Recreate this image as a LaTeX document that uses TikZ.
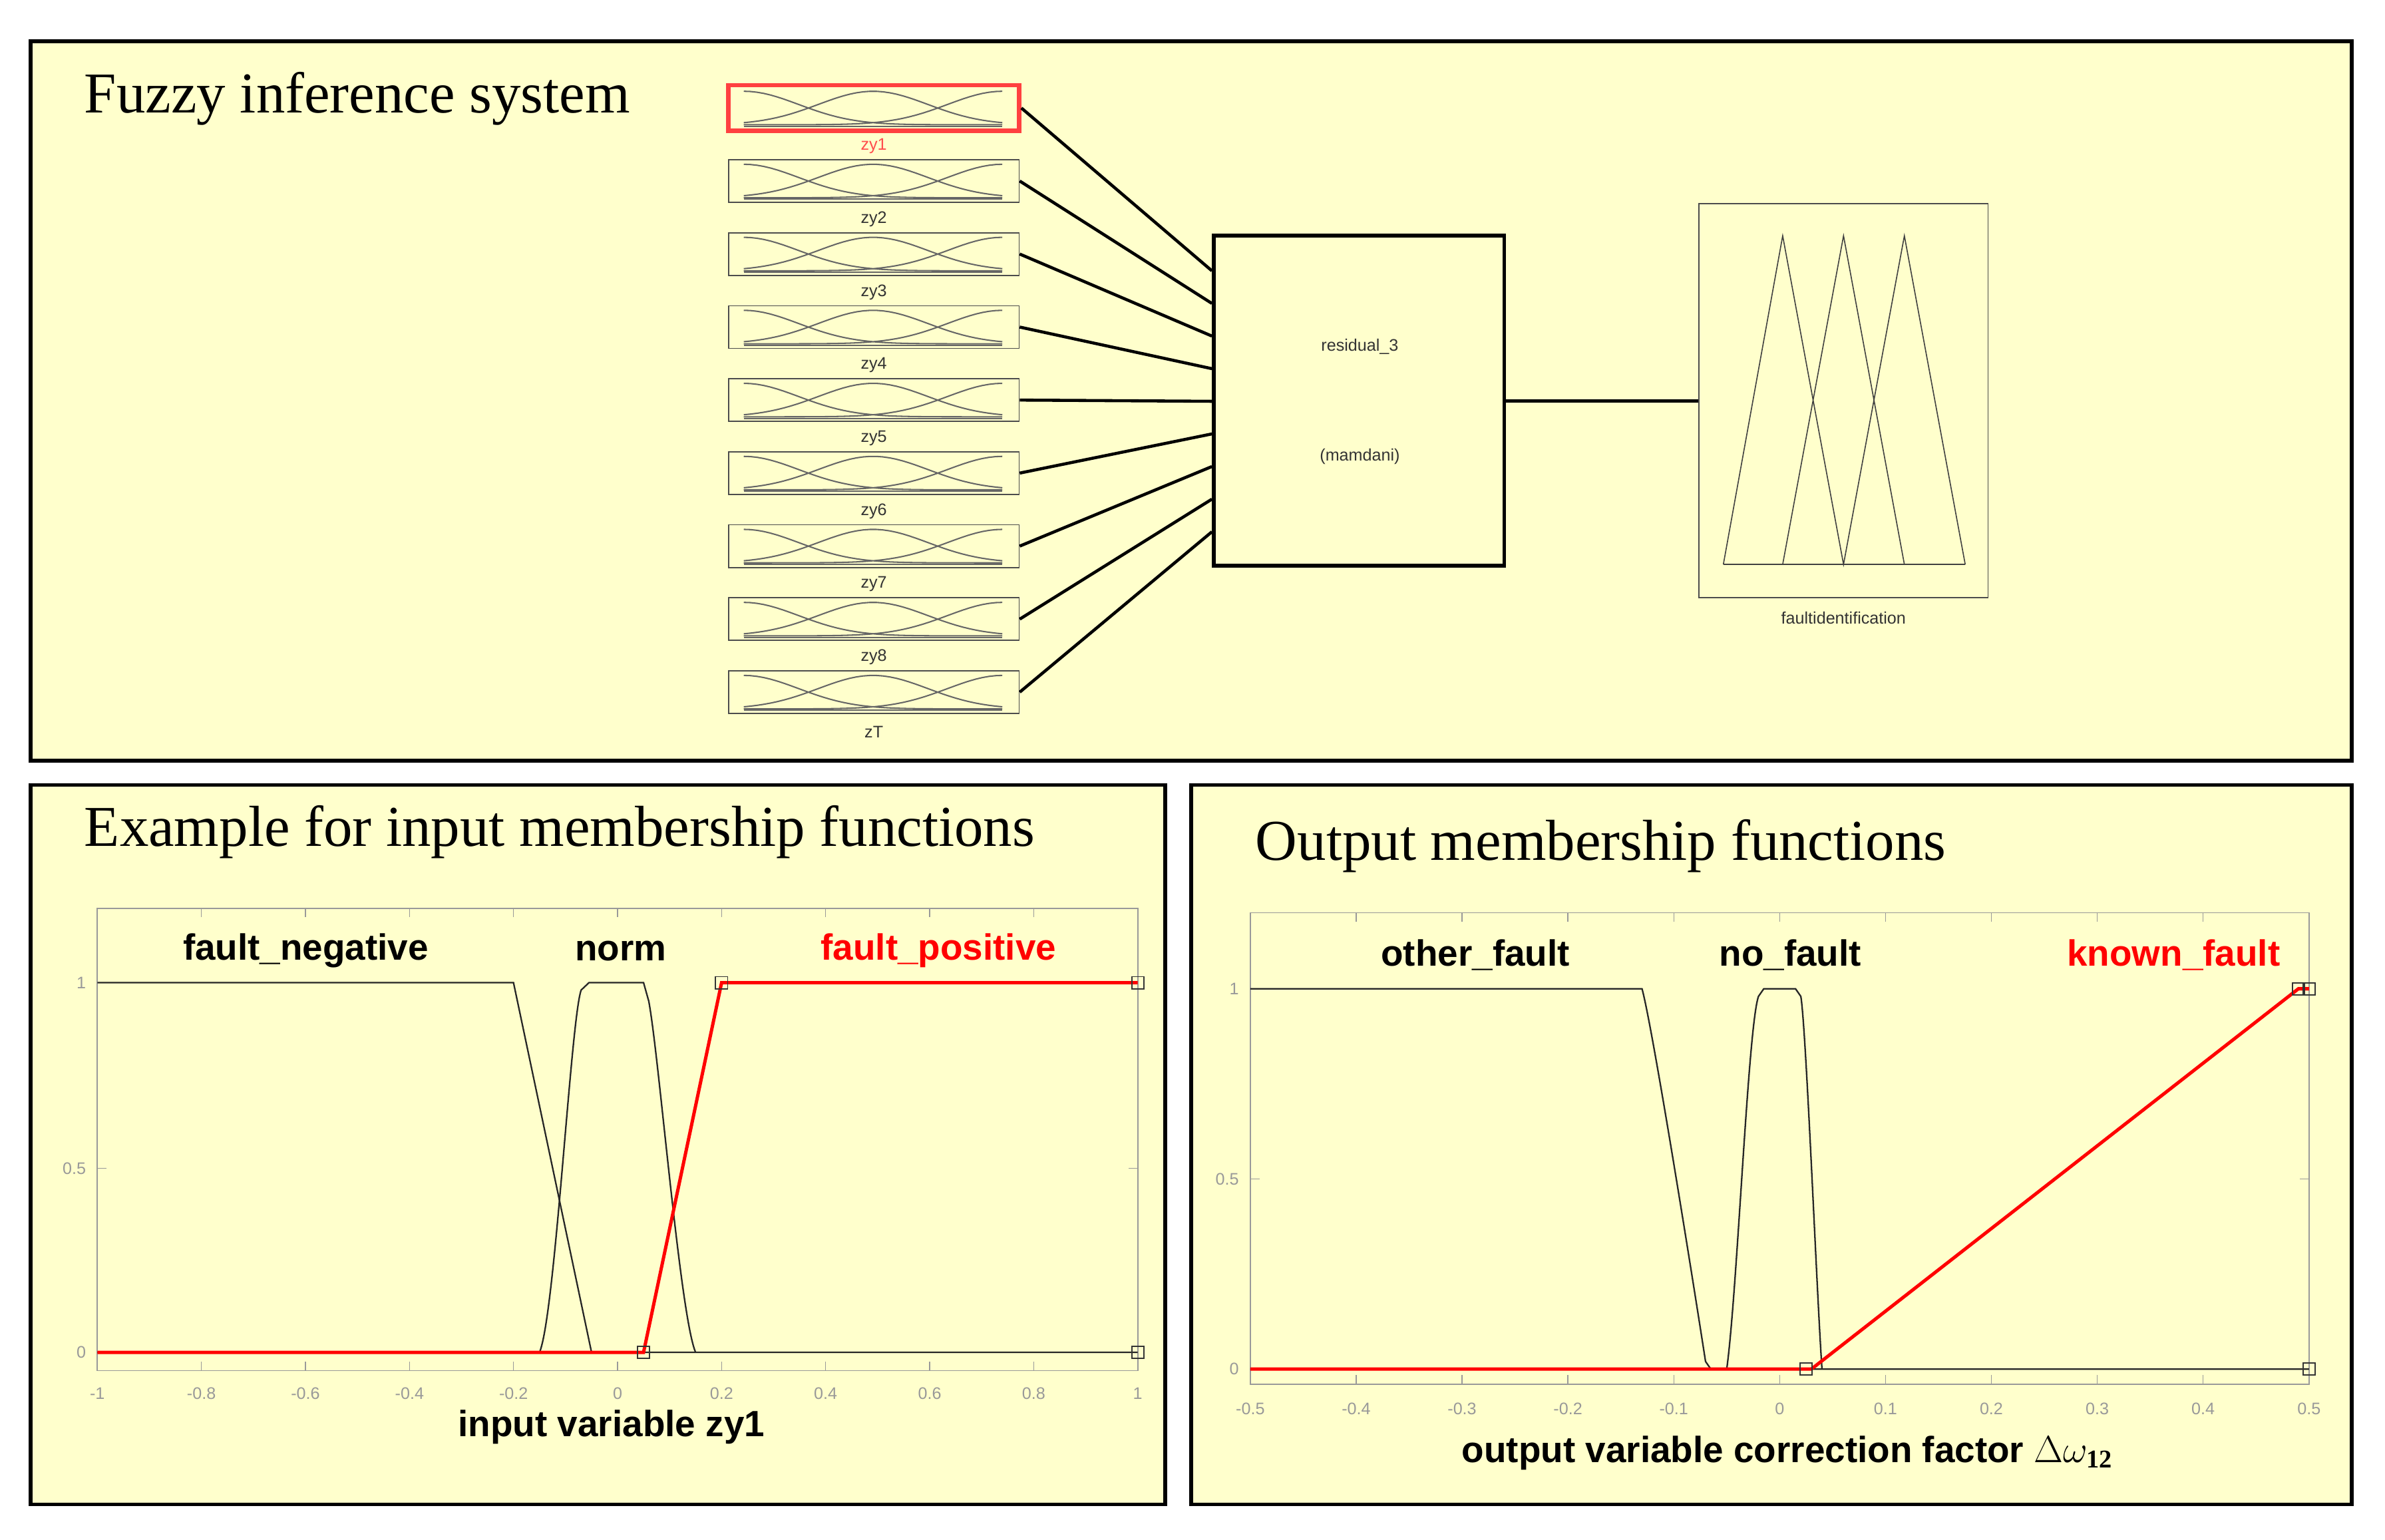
\documentclass[tikz,border=0pt]{standalone}
\usepackage{fontspec}
\setmainfont{Liberation Serif}
\newfontfamily\arialf{Liberation Sans}
\usetikzlibrary{calc}
\definecolor{bgy}{HTML}{FFFFCC}
\definecolor{axg}{HTML}{999999}
\begin{document}
\begin{tikzpicture}[x=1pt,y=-1pt,
  panel/.style={draw=black,line width=2.5pt,fill=bgy},
  title/.style={anchor=west,font=\fontsize{38}{40}\selectfont},
  mfb/.style={draw=black!70,line width=0.8pt,minimum width=191pt,minimum height=28pt,inner sep=0pt},
  tiny/.style={font=\arialf\fontsize{11}{12}\selectfont,text=black!80},
  lab/.style={font=\arialf\bfseries\fontsize{24}{26}\selectfont},
  tick/.style={font=\arialf\fontsize{11}{12}\selectfont,text=axg},
  conn/.style={line width=2pt},
  mf/.style={line width=1pt,black!85},
  mfr/.style={line width=2.2pt,red},
  mk/.style={draw=black!80,line width=0.8pt,minimum size=8pt,inner sep=0pt,fill=none}]
\useasboundingbox (0,0) rectangle (1568,1012);
\fill[white] (0,0) rectangle (1568,1012);
% panels
\draw[panel] (20,27) rectangle (1546,500);
\draw[panel] (20,516) rectangle (766,989);
\draw[panel] (783,516) rectangle (1546,989);
\node[title] (t1) at (52,65) {Fuzzy inference system};
\node[title] (t2) at (52,547) {Example for input membership functions};
\node[title] (t3) at (822,556) {Output membership functions};
% input boxes
\newcommand{\mfbox}[4]{%
  \node[mfb,#4] (#1) at (574.5,#2) {};
  \draw[black!60,line width=0.9pt,domain=0:1,samples=40]
    plot ({489+170*\x},{#2+11-22*exp(-((\x*4.72)^2)/2)})
    plot ({489+170*\x},{#2+11-22*exp(-(((\x-0.5)*4.72)^2)/2)})
    plot ({489+170*\x},{#2+11-22*exp(-(((\x-1)*4.72)^2)/2)});
  \draw[black!60,line width=0.9pt] (489,#2+12) -- (659,#2+12);
}
\mfbox{in1}{71}{zy1}{draw=red!75,line width=3pt,minimum height=30pt}
\mfbox{in2}{119}{zy2}{}
\mfbox{in3}{167}{zy3}{}
\mfbox{in4}{215}{zy4}{}
\mfbox{in5}{263}{zy5}{}
\mfbox{in6}{311}{zy6}{}
\mfbox{in7}{359}{zy7}{}
\mfbox{in8}{407}{zy8}{}
\mfbox{in9}{455}{zT}{}
\node[tiny,text=red!70] (l1) at (574.5,96) {zy1};
\node[tiny] (l2) at (574.5,144) {zy2};
\node[tiny] (l3) at (574.5,192) {zy3};
\node[tiny] (l4) at (574.5,240) {zy4};
\node[tiny] (l5) at (574.5,288) {zy5};
\node[tiny] (l6) at (574.5,336) {zy6};
\node[tiny] (l7) at (574.5,384) {zy7};
\node[tiny] (l8) at (574.5,432) {zy8};
\node[tiny] (l9) at (574.5,481) {zT};
% system box
\node[draw,line width=2.5pt,minimum width=191pt,minimum height=217pt,inner sep=0pt] (sys) at (893.5,263.5) {};
\node[tiny] (s1) at (894,228) {residual\_3};
\node[tiny] (s2) at (894,300) {(mamdani)};
\foreach \i [evaluate=\i as \f using (24+21.2*(\i-1))/217] in {1,...,9}
  \draw[conn] (in\i.east) -- ($(sys.north west)!\f!(sys.south west)$);
% output box
\node[draw=black!70,line width=0.8pt,minimum width=190pt,minimum height=259pt,inner sep=0pt] (out) at (1212,263.5) {};
\draw[conn] (sys.east) -- (out.west);
\node[tiny] (o1) at (1212,406) {faultidentification};
\draw[black!75,line width=0.7pt] (1133,371) -- (1172,155) -- (1212,371) -- (1252,155) -- (1292,371)
  (1172,371) -- (1212,155) -- (1252,371) (1133,371) -- (1292,371);
% ---- left plot
\draw[axg,line width=0.8pt,fill=bgy] (64,597) rectangle (748,901);
\foreach \v/\t in {-1/-1,-0.8/-0.8,-0.6/-0.6,-0.4/-0.4,-0.2/-0.2,0/0,0.2/0.2,0.4/0.4,0.6/0.6,0.8/0.8,1/1}{
  \draw[axg,line width=0.6pt] ({406+342*\v},901) -- ({406+342*\v},895) ({406+342*\v},597) -- ({406+342*\v},603);
  \node[tick] at ({406+342*\v},916) {\t};}
\foreach \v/\t/\y in {1/1/646,0.5/0.5/768,0/0/889}{
  \node[tick,anchor=east] at (60,\y) {\t};
  \draw[axg,line width=0.6pt] (64,\y) -- (70,\y) (748,\y) -- (742,\y);}
\begin{scope}[shift={(406,889)},x=342pt,y=243pt]
  \draw[mf] (-1,1) -- (-0.2,1) -- (-0.05,0) -- (1,0);
  \draw[mf] (-1,0) -- (-0.15,0) .. controls (-0.12,0.1) and (-0.09,0.9) .. (-0.07,0.98) -- (-0.055,1) -- (0.05,1) -- (0.06,0.95) .. controls (0.08,0.8) and (0.12,0.1) .. (0.15,0);
  \draw[mfr] (-1,0) -- (0.05,0) -- (0.2,1) -- (1,1);
  \node[mk] (m1) at (0.05,0) {};
  \node[mk] (m2) at (0.2,1) {};
  \node[mk] (m3) at (1,1) {};
  \node[mk] (m4) at (1,0) {};
\end{scope}
\node[lab] (a1) at (201,625) {fault\_negative};
\node[lab] (a2) at (408,625) {norm};
\node[lab,text=red] (a3) at (617,625) {fault\_positive};
\node[lab] (a4) at (402,938) {input variable zy1};
% ---- right plot
\draw[axg,line width=0.8pt,fill=bgy] (822,600) rectangle (1518,910);
\foreach \v/\t in {-0.5/-0.5,-0.4/-0.4,-0.3/-0.3,-0.2/-0.2,-0.1/-0.1,0/0,0.1/0.1,0.2/0.2,0.3/0.3,0.4/0.4,0.5/0.5}{
  \draw[axg,line width=0.6pt] ({1170+696*\v},910) -- ({1170+696*\v},904) ({1170+696*\v},600) -- ({1170+696*\v},606);
  \node[tick] at ({1170+696*\v},926) {\t};}
\foreach \v/\t/\y in {1/1/650,0.5/0.5/775,0/0/900}{
  \node[tick,anchor=east] at (818,\y) {\t};
  \draw[axg,line width=0.6pt] (822,\y) -- (828,\y) (1518,\y) -- (1512,\y);}
\begin{scope}[shift={(1170,900)},x=696pt,y=250pt]
  \draw[mf] (-0.5,1) -- (-0.13,1) .. controls (-0.12,0.9) and (-0.08,0.2) .. (-0.07,0.02) -- (-0.065,0) -- (0.5,0);
  \draw[mf] (-0.5,0) -- (-0.05,0) .. controls (-0.04,0.2) and (-0.03,0.9) .. (-0.02,0.98) -- (-0.015,1) -- (0.015,1) -- (0.02,0.98) .. controls (0.025,0.9) and (0.035,0.2) .. (0.04,0);
  \draw[mfr] (-0.5,0) -- (0.03,0) -- (0.49,1) -- (0.5,1);
  \node[mk] (n1) at (0.025,0) {};
  \node[mk] (n2) at (0.49,1) {};
  \node[mk] (n3) at (0.5,1) {};
  \node[mk] (n4) at (0.5,0) {};
\end{scope}
\node[lab] (b1) at (970,628) {other\_fault};
\node[lab] (b2) at (1177,628) {no\_fault};
\node[lab,text=red] (b3) at (1429,628) {known\_fault};
\node[lab] (b4) at (1175,955) {output variable correction factor $\Delta\omega_{\mathbf{12}}$};
\end{tikzpicture}
\end{document}
